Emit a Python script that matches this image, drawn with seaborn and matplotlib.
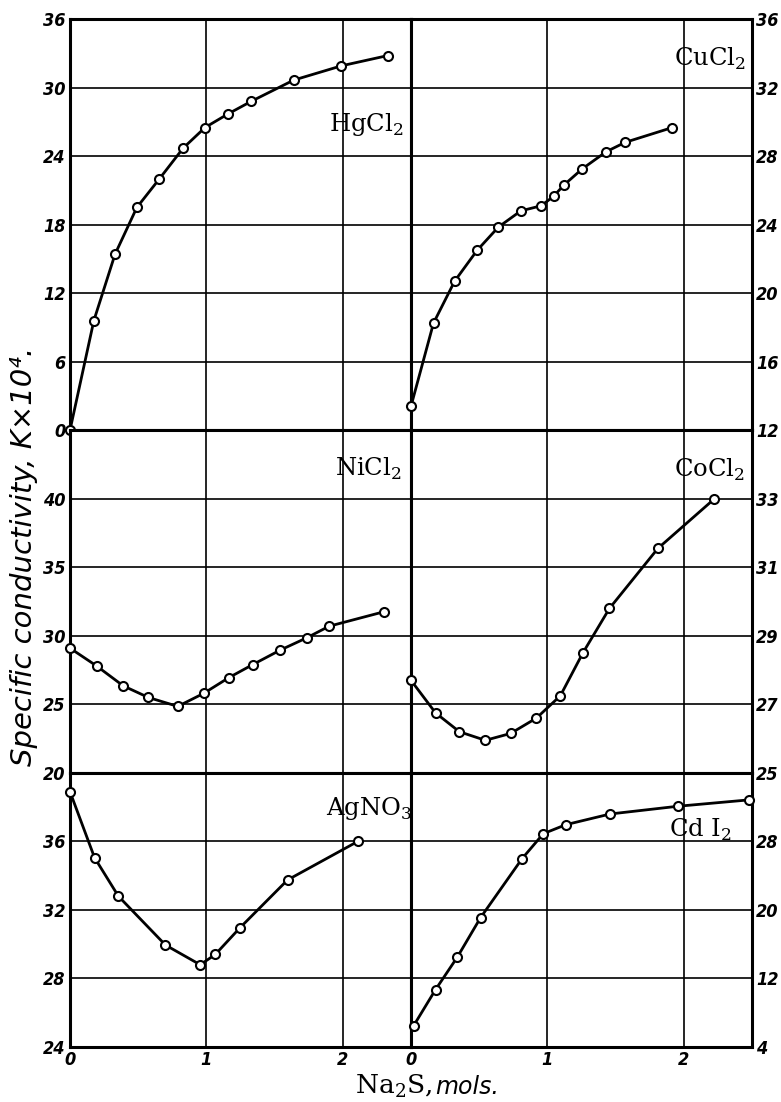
import seaborn as sns
import matplotlib.pyplot as plt

# x = Na2S added (mols), y = specific conductivity K x 10^4
hg_x = [0.0, 0.175, 0.33, 0.49, 0.655, 0.83, 0.99, 1.16, 1.33, 1.64, 1.99, 2.33]
hg_y = [0.0, 9.6, 15.4, 19.5, 22.0, 24.7, 26.5, 27.7, 28.8, 30.65, 31.9, 32.8]

cu_x = [0.0, 0.165, 0.32, 0.485, 0.64, 0.805, 0.955, 1.045, 1.12, 1.255, 1.43, 1.57, 1.91]
cu_y = [13.4, 18.25, 20.7, 22.5, 23.85, 24.8, 25.1, 25.65, 26.3, 27.25, 28.25, 28.8, 29.65]

ni_x = [0.0, 0.195, 0.39, 0.575, 0.79, 0.98, 1.165, 1.34, 1.54, 1.735, 1.9, 2.3]
ni_y = [29.1, 27.8, 26.35, 25.5, 24.85, 25.8, 26.95, 27.9, 28.95, 29.85, 30.7, 31.75]

co_x = [0.0, 0.18, 0.355, 0.545, 0.73, 0.92, 1.095, 1.26, 1.455, 1.81, 2.225]
co_y = [27.7, 26.75, 26.2, 25.95, 26.15, 26.6, 27.25, 28.5, 29.8, 31.55, 33.0]

ag_x = [0.0, 0.18, 0.355, 0.7, 0.955, 1.065, 1.245, 1.595, 2.11]
ag_y = [38.9, 35.05, 32.8, 29.95, 28.8, 29.4, 30.95, 33.75, 36.0]

cd_x = [0.02, 0.18, 0.34, 0.51, 0.815, 0.97, 1.135, 1.46, 1.955, 2.48]
cd_y = [6.5, 10.7, 14.5, 19.1, 26.0, 28.9, 29.95, 31.2, 32.1, 32.85]

names = ["HgCl$_\\mathrm{2}$", "CuCl$_\\mathrm{2}$", "NiCl$_\\mathrm{2}$",
         "CoCl$_\\mathrm{2}$", "AgNO$_\\mathrm{3}$", "Cd I$_\\mathrm{2}$"]

x_ticks = [0, 1, 2]
y_ticks = [
    [0, 6, 12, 18, 24, 30, 36], [12, 16, 20, 24, 28, 32, 36],
    [20, 25, 30, 35, 40, 45], [25, 27, 29, 31, 33, 35],
    [24, 28, 32, 36, 40], [4, 12, 20, 28, 36],
]
y_labels = [
    ["0", "6", "12", "18", "24", "30", "36"], ["12", "16", "20", "24", "28", "32", "36"],
    ["20", "25", "30", "35", "40", ""], ["25", "27", "29", "31", "33", ""],
    ["24", "28", "32", "36", ""], ["4", "12", "20", "28", ""],
]
name_pos = [(2.17, 26.8), (2.19, 33.7), (2.19, 42.2), (2.19, 33.85), (2.19, 37.9), (2.12, 29.3)]

series = [(hg_x, hg_y), (cu_x, cu_y), (ni_x, ni_y), (co_x, co_y), (ag_x, ag_y), (cd_x, cd_y)]

sns.set_theme(style="white")
plt.rcParams["font.family"] = ["DejaVu Sans"]
plt.rcParams["text.color"] = "black"
plt.rcParams["mathtext.fontset"] = "custom"
plt.rcParams["mathtext.rm"] = "DejaVu Serif"

fig = plt.figure(figsize=(7.81, 11.02), dpi=100)
gs = fig.add_gridspec(3, 2, height_ratios=[6, 5, 4],
                      left=70/781, right=752/781, top=1-19/1102, bottom=1-1047/1102,
                      hspace=0, wspace=0)

tick_font = dict(fontstyle="italic", fontweight="bold", fontsize=13, fontstretch="condensed")

for i, (xs, ys) in enumerate(series):
    row, col = divmod(i, 2)
    ax = fig.add_subplot(gs[row, col])
    sns.lineplot(x=xs, y=ys, ax=ax, color="black", lw=2, sort=False, estimator=None,
                 marker="o", markersize=6.5, markerfacecolor="white",
                 markeredgecolor="black", markeredgewidth=1.5, clip_on=False, zorder=5)
    ax.set_xlim(0, 2.5)
    ax.set_ylim(y_ticks[i][0], y_ticks[i][-1])
    ax.set_yticks(y_ticks[i])
    ax.set_yticklabels(y_labels[i], **tick_font)
    ax.set_xticks(x_ticks)
    if row == 2:
        ax.set_xticklabels([str(t) for t in x_ticks], **tick_font)
    else:
        ax.set_xticklabels([])
    if col == 1:
        ax.yaxis.tick_right()
    ax.tick_params(length=0, pad=3, colors="black")
    ax.grid(True, color="black", linewidth=1.2)
    for s in ax.spines.values():
        s.set_visible(True)
        s.set_color("black")
        s.set_linewidth(2.2)
    ax.text(name_pos[i][0], name_pos[i][1], names[i], ha="center", va="center",
            fontsize=17.5, family="DejaVu Serif", color="black", zorder=6)

fig.text(24/781, 1-556/1102, "Specific conductivity, K\u00d710\u2074.", rotation=90,
         ha="center", va="center", fontsize=21, fontstyle="italic", color="black")
fig.text(432/781, 1-1094/1102, "Na$_\\mathrm{2}$S,", ha="right", va="baseline",
         fontsize=19, family="DejaVu Serif", color="black")
fig.text(435/781, 1-1094/1102, "mols.", ha="left", va="baseline",
         fontsize=17, fontstyle="italic", color="black")

fig.savefig("out.png", dpi=100)
